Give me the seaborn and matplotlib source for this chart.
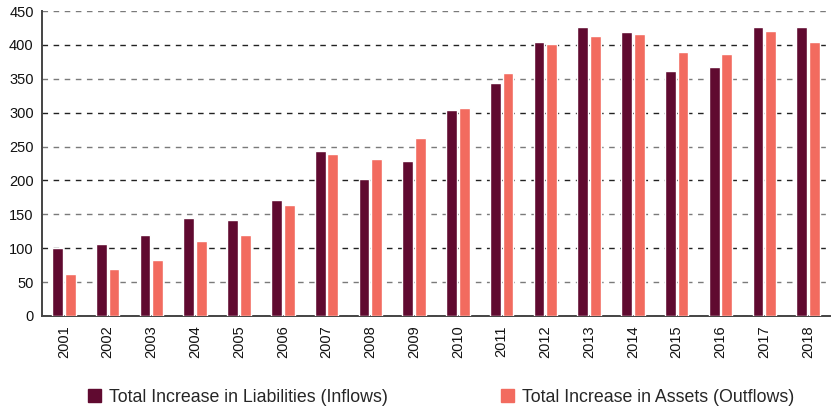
import pandas as pd
import matplotlib
matplotlib.use("Agg")
import matplotlib.pyplot as plt
from matplotlib.ticker import MultipleLocator, FixedLocator
import seaborn as sns

years = [str(y) for y in range(2001, 2019)]
inflows = [100, 106, 120, 144, 141, 171, 243, 202, 229, 304, 344, 405, 426, 419, 362, 368, 426, 426]
outflows = [62, 69, 83, 110, 120, 164, 239, 232, 263, 307, 358, 402, 413, 416, 389, 386, 420, 405]
series = ["Total Increase in Liabilities (Inflows)", "Total Increase in Assets (Outflows)"]
colors = ["#600a30", "#f26b5f"]

df = pd.DataFrame({
    "year": years * 2,
    "value": inflows + outflows,
    "series": [series[0]] * len(years) + [series[1]] * len(years),
})

sns.set_theme(style="white")
plt.rcParams["font.family"] = ["Liberation Sans", "DejaVu Sans"]

fig = plt.figure(figsize=(8.32, 4.09), dpi=100)
ax = fig.add_axes([0.0505, 0.2274, 0.947, 0.7456])

sns.barplot(data=df, x="year", y="value", hue="series", palette=colors,
            width=0.58, gap=0.15, saturation=1, ax=ax, legend=False, zorder=3)

ax.set_ylim(0, 450)
ax.set_xlim(-0.5, len(years) - 0.5)
ax.yaxis.set_major_locator(MultipleLocator(50))
ax.grid(axis="y", linestyle=(0, (4, 4)), linewidth=1, zorder=0)
ax.set_axisbelow(True)
# darker lines on the hundreds, grey on the fifties
for val, gl in zip(ax.get_yticks(), ax.yaxis.get_gridlines()):
    gl.set_color("#222222" if val % 100 == 0 else "#7a7a7a")

sns.despine(ax=ax)
for s in ["left", "bottom"]:
    ax.spines[s].set_color("#444444")
    ax.spines[s].set_linewidth(1.4)

ax.set_xlabel("")
ax.set_ylabel("")
ax.tick_params(axis="x", which="major", length=0, pad=7, labelsize=10.5, rotation=90, labelcolor="#111111")
ax.xaxis.set_minor_locator(FixedLocator([i + 0.5 for i in range(-1, len(years))]))
ax.tick_params(axis="x", which="minor", length=6, width=1.2, color="#444444", direction="out")
ax.tick_params(axis="y", length=4, width=1.2, color="#444444", labelsize=10.5, labelcolor="#111111", pad=2)

handles = [plt.Rectangle((0, 0), 1, 1, color=c) for c in colors]
fig.legend(handles, series, loc="center", bbox_to_anchor=(0.530, 0.029), ncol=2,
           frameon=False, fontsize=12.8, handlelength=0.73, handleheight=0.73,
           handletextpad=0.45, columnspacing=6.4, borderpad=0)

fig.savefig("out.png", dpi=100)
